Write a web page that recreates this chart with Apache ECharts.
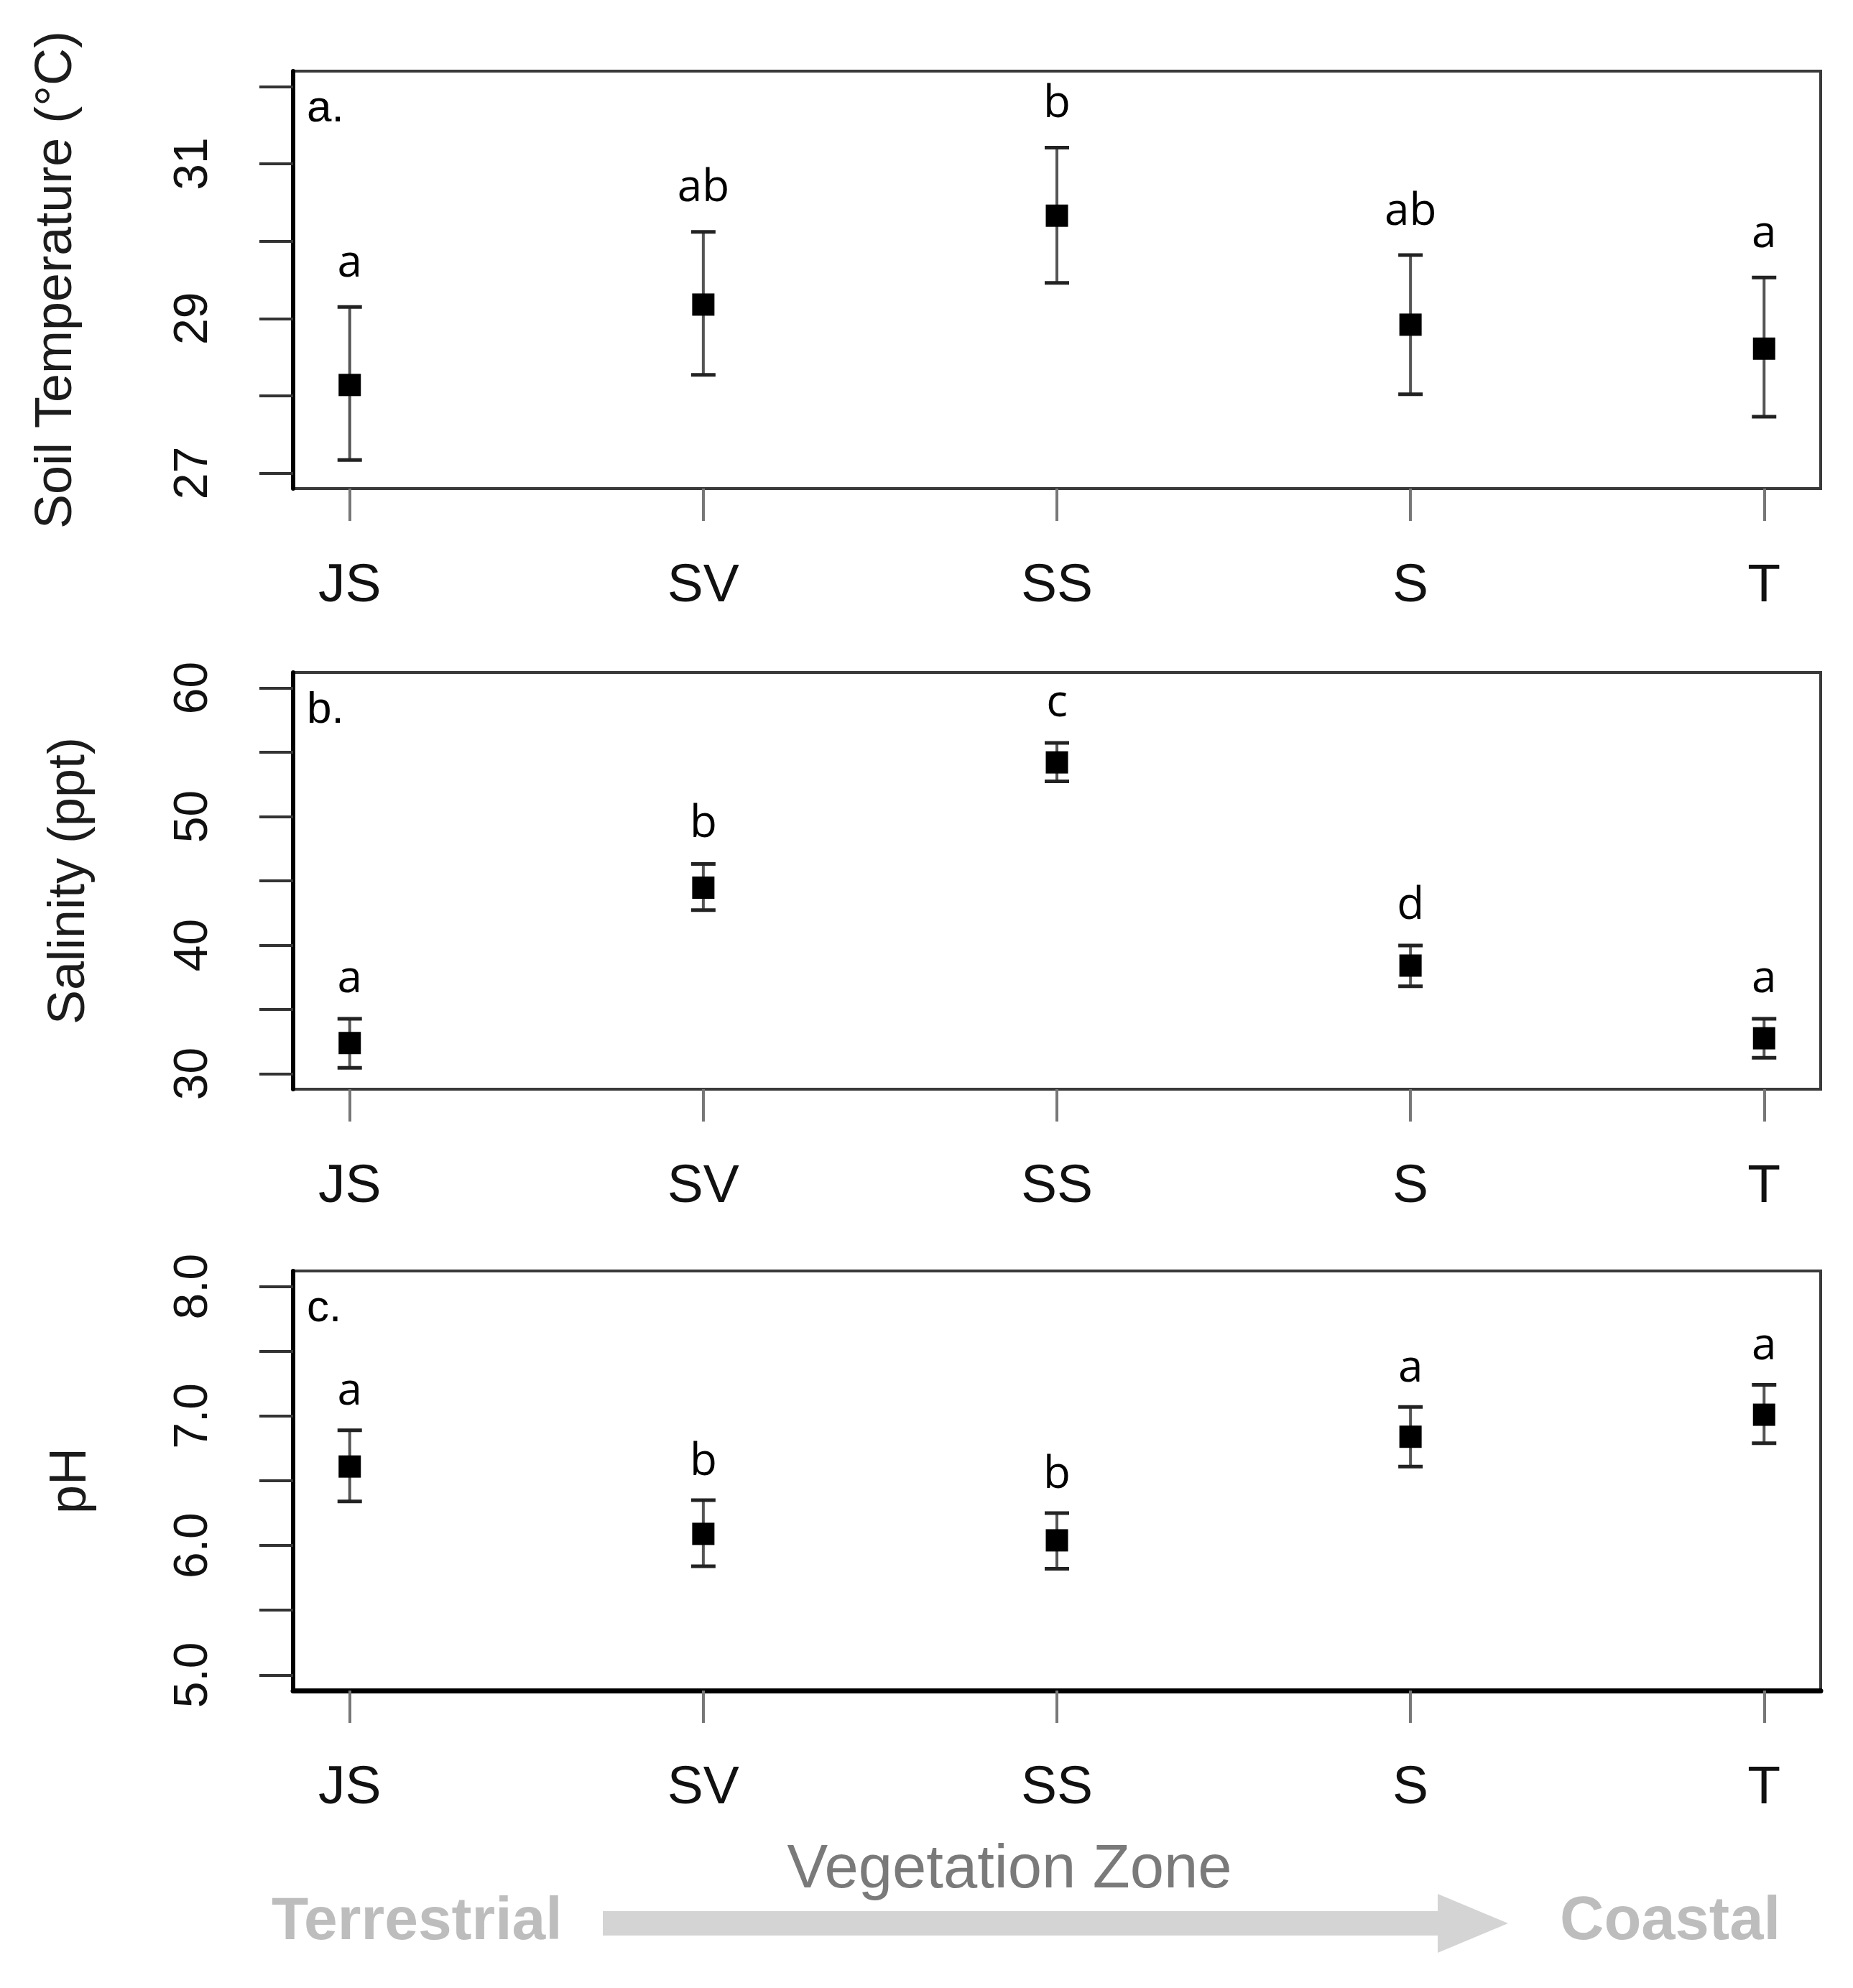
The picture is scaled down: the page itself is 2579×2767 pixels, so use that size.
<!DOCTYPE html>
<html>
<head>
<meta charset="utf-8">
<script src="https://cdn.jsdelivr.net/npm/echarts@6/dist/echarts.min.js"></script>
<style>
  html, body { margin: 0; padding: 0; background: #fff; }
  #chart { width: 2579px; height: 2767px; }
</style>
</head>
<body>
<div id="chart"></div>
<script>
(function () {
  'use strict';

  // vegetation zones, terrestrial -> coastal
  const zones = ['JS', 'SV', 'SS', 'S', 'T'];
  const zonePos = [1, 2, 3, 4, 5];

  // a. soil temperature (°C): mean and error bar ends
  const tempMean = [28.14, 29.18, 30.33, 28.92, 28.61];
  const tempUpper = [29.15, 30.12, 31.21, 29.82, 29.53];
  const tempLower = [27.17, 28.27, 29.46, 28.02, 27.73];
  const tempLetters = ['a', 'ab', 'b', 'ab', 'a'];
  const tempTicks = [27, 28, 29, 30, 31, 32];
  const tempTickLabels = [27, 29, 31];

  // b. salinity (ppt)
  const salMean = [32.39, 44.47, 54.21, 38.41, 32.76];
  const salUpper = [34.28, 46.31, 55.73, 39.97, 34.28];
  const salLower = [30.46, 42.73, 52.74, 36.80, 31.24];
  const salLetters = ['a', 'b', 'c', 'd', 'a'];
  const salTicks = [30, 35, 40, 45, 50, 55, 60];
  const salTickLabels = [30, 40, 50, 60];

  // c. pH
  const phMean = [6.61, 6.09, 6.04, 6.84, 7.01];
  const phUpper = [6.89, 6.35, 6.25, 7.07, 7.24];
  const phLower = [6.34, 5.84, 5.82, 6.61, 6.79];
  const phLetters = ['a', 'b', 'b', 'a', 'a'];
  const phTicks = [5, 5.5, 6, 6.5, 7, 7.5, 8];
  const phTickLabels = [5, 6, 7, 8];

  const panels = [
    {
      tag: 'a.', name: 'Soil Temperature (°C)', mean: tempMean, upper: tempUpper, lower: tempLower,
      letters: tempLetters, ticks: tempTicks, labels: tempTickLabels, min: 26.8, max: 32.2,
      top: 99, height: 581, nameGap: 293, letterGap: 60, fmt: (v) => String(v), xLine: false,
    },
    {
      tag: 'b.', name: 'Salinity (ppt)', mean: salMean, upper: salUpper, lower: salLower,
      letters: salLetters, ticks: salTicks, labels: salTickLabels, min: 28.8, max: 61.2,
      top: 936, height: 580, nameGap: 275, letterGap: 55, fmt: (v) => String(v), xLine: false,
    },
    {
      tag: 'c.', name: 'pH', mean: phMean, upper: phUpper, lower: phLower,
      letters: phLetters, ticks: phTicks, labels: phTickLabels, min: 4.88, max: 8.12,
      top: 1769, height: 584, nameGap: 273, letterGap: 53, fmt: (v) => v.toFixed(1), xLine: true,
    },
  ];

  const FONT = '"Liberation Sans", Arial, sans-serif';
  const LETTER_FONT = '"Open Sans", "Noto Sans", sans-serif';
  const gridLeft = 408;
  const gridWidth = 2126;

  const grids = [];
  const xAxes = [];
  const yAxes = [];
  const series = [];
  const graphics = [];

  panels.forEach((p, idx) => {
    grids.push({
      left: gridLeft,
      width: gridWidth,
      top: p.top,
      height: p.height,
      show: true,
      borderColor: '#3a3a3a',
      borderWidth: 4,
      backgroundColor: '#fff',
    });

    xAxes.push({
      type: 'value',
      gridIndex: idx,
      min: 0.84,
      max: 5.16,
      axisLine: { show: p.xLine, onZero: false, lineStyle: { color: '#000', width: 7 } },
      axisTick: {
        show: true,
        customValues: zonePos,
        length: 45,
        lineStyle: { color: '#777', width: 4 },
      },
      axisLabel: {
        customValues: zonePos,
        margin: 99,
        fontSize: 75,
        lineHeight: 75,
        color: '#111',
        fontFamily: FONT,
        formatter: (v) => zones[Math.round(v) - 1] || '',
      },
      splitLine: { show: false },
    });

    yAxes.push({
      type: 'value',
      gridIndex: idx,
      min: p.min,
      max: p.max,
      name: p.name,
      nameLocation: 'middle',
      nameRotate: 90,
      nameGap: p.nameGap,
      nameTextStyle: { fontSize: 72, lineHeight: 72, color: '#1c1c1c', fontFamily: FONT },
      axisLine: { show: true, lineStyle: { color: '#000', width: 6 } },
      axisTick: {
        show: true,
        customValues: p.ticks,
        length: 47,
        lineStyle: { color: '#333', width: 4 },
      },
      axisLabel: {
        customValues: p.labels,
        rotate: 90,
        margin: 105,
        fontSize: 66,
        lineHeight: 66,
        color: '#111',
        fontFamily: FONT,
        formatter: p.fmt,
      },
      splitLine: { show: false },
    });

    const letters = p.letters;
    const gap = p.letterGap;

    series.push({
      type: 'custom',
      xAxisIndex: idx,
      yAxisIndex: idx,
      data: zonePos.map((x, i) => [x, p.lower[i], p.upper[i]]),
      encode: { x: 0, y: [1, 2] },
      renderItem(params, api) {
        const x = api.value(0);
        const lo = api.coord([x, api.value(1)]);
        const hi = api.coord([x, api.value(2)]);
        const cap = 17;
        return {
          type: 'group',
          children: [
            {
              type: 'line',
              shape: { x1: hi[0], y1: hi[1], x2: lo[0], y2: lo[1] },
              style: { stroke: '#555', lineWidth: 4 },
            },
            {
              type: 'line',
              shape: { x1: hi[0] - cap, y1: hi[1], x2: hi[0] + cap, y2: hi[1] },
              style: { stroke: '#222', lineWidth: 5 },
            },
            {
              type: 'line',
              shape: { x1: lo[0] - cap, y1: lo[1], x2: lo[0] + cap, y2: lo[1] },
              style: { stroke: '#222', lineWidth: 5 },
            },
            {
              type: 'text',
              style: {
                text: letters[params.dataIndex],
                x: hi[0],
                y: hi[1] - gap,
                textAlign: 'center',
                textVerticalAlign: 'middle',
                font: '500 62px ' + LETTER_FONT,
                fill: '#000',
              },
            },
          ],
        };
      },
      z: 2,
    });

    series.push({
      type: 'scatter',
      xAxisIndex: idx,
      yAxisIndex: idx,
      symbol: 'rect',
      symbolSize: 31,
      itemStyle: { color: '#000', opacity: 1 },
      data: zonePos.map((x, i) => [x, p.mean[i]]),
      z: 3,
    });

    graphics.push({
      type: 'text',
      x: 427,
      y: p.top + 53,
      style: {
        text: p.tag,
        font: '62px ' + FONT,
        fill: '#000',
        textAlign: 'left',
        textVerticalAlign: 'middle',
      },
    });
  });

  // footer: axis title and terrestrial -> coastal arrow
  graphics.push(
    {
      type: 'text',
      x: 1405,
      y: 2604,
      style: {
        text: 'Vegetation Zone',
        font: '85px ' + FONT,
        fill: '#7a7a7a',
        textAlign: 'center',
        textVerticalAlign: 'middle',
      },
    },
    {
      type: 'text',
      x: 378,
      y: 2676,
      style: {
        text: 'Terrestrial',
        font: 'bold 84px ' + FONT,
        fill: '#bdbdbd',
        textAlign: 'left',
        textVerticalAlign: 'middle',
      },
    },
    {
      type: 'text',
      x: 2171,
      y: 2676,
      style: {
        text: 'Coastal',
        font: 'bold 85px ' + FONT,
        fill: '#bdbdbd',
        textAlign: 'left',
        textVerticalAlign: 'middle',
      },
    },
    {
      type: 'rect',
      shape: { x: 839, y: 2660, width: 1163, height: 34 },
      style: { fill: '#d4d4d4' },
    },
    {
      type: 'polygon',
      shape: { points: [[2001, 2636], [2099, 2677], [2001, 2718]] },
      style: { fill: '#d4d4d4' },
    }
  );

  const chart = echarts.init(document.getElementById('chart'), null, { renderer: 'canvas' });
  chart.setOption({
    backgroundColor: '#fff',
    animation: false,
    textStyle: { fontFamily: FONT },
    grid: grids,
    xAxis: xAxes,
    yAxis: yAxes,
    series,
    graphic: graphics,
  });
})();
</script>
</body>
</html>
